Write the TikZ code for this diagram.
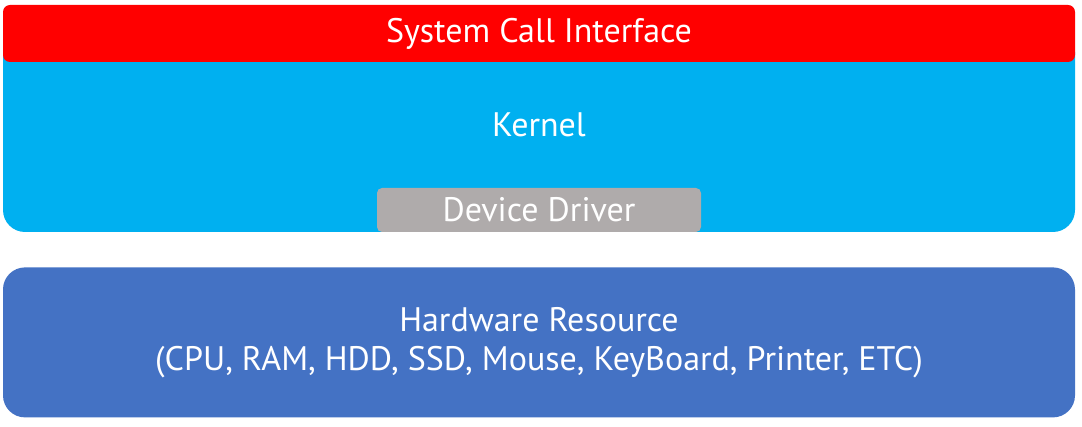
\documentclass[tikz,border=0pt]{standalone}
\usepackage{fontspec}
\setmainfont{PT Sans}
\usetikzlibrary{positioning}
\definecolor{sciRed}{HTML}{FF0000}
\definecolor{kernelBlue}{HTML}{00B0F0}
\definecolor{driverGrey}{HTML}{AFABAB}
\definecolor{hwBlue}{HTML}{4472C4}

\begin{document}
\begin{tikzpicture}[x=1pt,y=1pt,
		layer/.style={inner sep=0pt, text=white, font=\fontsize{34}{39}\selectfont}]
		\useasboundingbox (0,0) rectangle (1082,426);

		\node[layer, fill = kernelBlue, rectangle, rounded corners = 22pt, minimum width = 1072pt, minimum height = 202pt] at (539,295) (k) {};

		\node[layer, fill = sciRed, rectangle, rounded corners = 7pt, minimum width = 1072pt, minimum height = 57pt] at (539,392.5) (sci)
		{\raisebox{-2pt}{System Call Interface}};

		\node[layer] at (539,301) (kl) {Kernel};

		\node[layer, anchor = south, fill = driverGrey, rectangle, rounded corners = 5pt, minimum width = 324pt, minimum height = 44pt] at (k.south) (dd)
		{Device Driver};

		\node[layer, below = 35pt of k, align = center, fill = hwBlue, rectangle, rounded corners = 22pt, minimum width = 1072pt, minimum height = 150pt] (hw)
		{Hardware Resource\\(CPU, RAM, HDD, SSD, Mouse, KeyBoard, Printer, ETC)};
	\end{tikzpicture}
\end{document}
